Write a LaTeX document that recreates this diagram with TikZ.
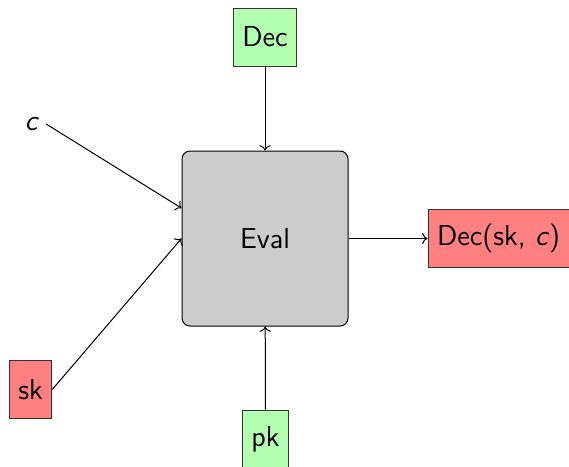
\documentclass[tikz,border=0pt]{standalone}
\usetikzlibrary{arrows.meta}
\begin{document}
\begin{tikzpicture}[x=0.5pt,y=-0.5pt,
  every node/.style={font=\fontsize{14.4}{17}\selectfont\sffamily},
  inbox/.style={draw=black!80, line width=0.5pt, minimum height=29pt, inner xsep=4.5pt},
  greenbox/.style={inbox, fill=green!30},
  redbox/.style={inbox, fill=red!50},
  evalbox/.style={draw=black, fill=black!20, rounded corners=4pt, minimum width=83pt, minimum height=87.5pt, line width=0.5pt},
  conn/.style={->, line width=0.5pt}]
\useasboundingbox (0,0) rectangle (569,467);
\node[evalbox] (eval) at (265,238.5) {Eval};
\node[greenbox] (dec) at (265,37) {Dec};
\node[greenbox] (pk) at (265.5,439) {pk};
\node[redbox] (sk) at (30.5,389.5) {sk};
\node[redbox, anchor=west] (out) at (427.5,238.5) {Dec(sk, \textit{c})};
\node (c) at (32,124) {\textit{c}};
\draw[conn] (dec) -- (eval);
\draw[conn] (pk) -- (eval);
\draw[conn] (c.east) -- (eval.160);
\draw[conn] (sk.east) -- (eval.west);
\draw[conn] (eval.east) -- (out.west);
\end{tikzpicture}
\end{document}
